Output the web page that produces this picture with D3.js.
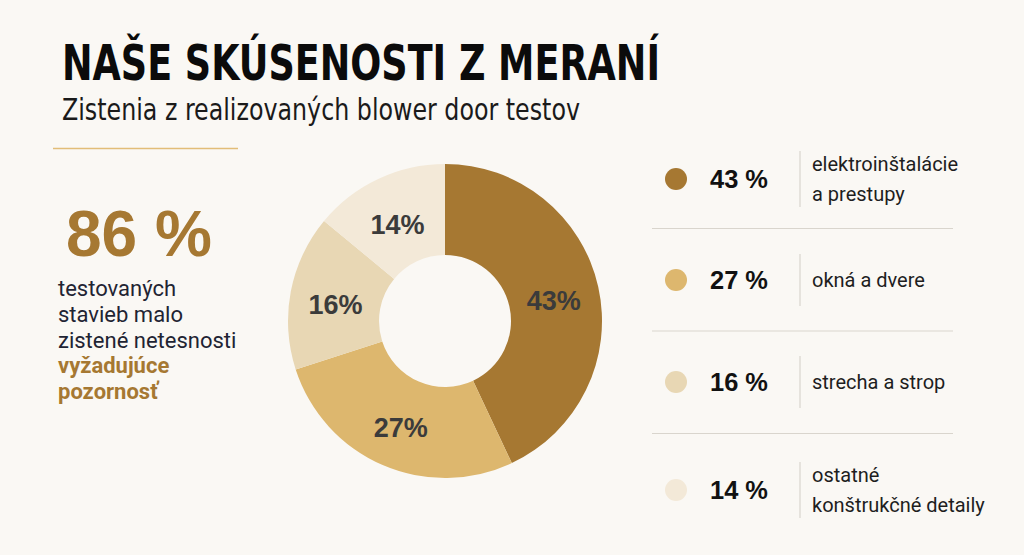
<!DOCTYPE html>
<html>
<head>
<meta charset="utf-8">
<script src="https://cdn.jsdelivr.net/npm/d3@7"></script>
<style>
  html, body { margin: 0; padding: 0; background: #faf8f4; }
  svg { display: block; }
</style>
</head>
<body>
<svg id="chart" width="1024" height="555"></svg>
<script>
// ---- data ----
const categories = ["elektroinštalácie\na prestupy", "okná a dvere", "strecha a strop", "ostatné\nkonštrukčné detaily"];
const values = [43, 27, 16, 14];
const colors = ["#a67832", "#ddb76e", "#e8d7b4", "#f3e9d8"];
const title = "NAŠE SKÚSENOSTI Z MERANÍ";
const subtitle = "Zistenia z realizovaných blower door testov";
const highlightValue = "86 %";
const highlightText = ["testovaných", "stavieb malo", "zistené netesnosti"];
const highlightEmph = ["vyžadujúce", "pozornosť"];

// ---- drawing ----
const svg = d3.select("#chart");
svg.append("rect").attr("width", 1024).attr("height", 555).attr("fill", "#faf8f4");

const gold = "#a67832";

svg.append("text").text(title)
  .attr("x", 62).attr("y", 80)
  .attr("font-family", "'DejaVu Sans Condensed', 'DejaVu Sans', sans-serif")
  .attr("font-stretch", "condensed")
  .attr("font-weight", 700).attr("font-size", 50).attr("fill", "#0b0b0b")
  .attr("textLength", 598).attr("lengthAdjust", "spacingAndGlyphs");

svg.append("text").text(subtitle)
  .attr("x", 62).attr("y", 120)
  .attr("font-family", "'DejaVu Sans Condensed', 'DejaVu Sans', sans-serif")
  .attr("font-stretch", "condensed")
  .attr("font-weight", 400).attr("font-size", 30).attr("fill", "#1a1a1a")
  .attr("textLength", 518).attr("lengthAdjust", "spacingAndGlyphs");

svg.append("line").attr("x1", 53).attr("x2", 238).attr("y1", 148.5).attr("y2", 148.5)
  .attr("stroke", "#e2bd78").attr("stroke-width", 1.5);

svg.append("text").text(highlightValue)
  .attr("x", 66).attr("y", 256)
  .attr("font-family", "'Liberation Sans', Arial, sans-serif")
  .attr("font-weight", 700).attr("font-size", 64).attr("fill", gold);

const lineH = 25.8;
highlightText.concat(highlightEmph).forEach((t, i) => {
  const emph = i >= highlightText.length;
  svg.append("text").text(t)
    .attr("x", 58).attr("y", 296 + i * lineH)
    .attr("font-family", "Roboto, 'Noto Sans', sans-serif")
    .attr("font-weight", emph ? 700 : 400)
    .attr("font-size", 22)
    .attr("fill", emph ? gold : "#1f2433");
});

// donut
const cx = 445, cy = 321, rOuter = 157, rInner = 66;
const pie = d3.pie().sort(null).value(d => d)(values);
const arc = d3.arc().innerRadius(rInner).outerRadius(rOuter);
const g = svg.append("g").attr("transform", `translate(${cx},${cy})`);
g.selectAll("path").data(pie).join("path")
  .attr("d", arc).attr("fill", (d, i) => colors[i]);
g.selectAll("text").data(pie).join("text")
  .attr("transform", d => `translate(${arc.centroid(d)})`)
  .attr("text-anchor", "middle").attr("dy", "0.5em")
  .attr("font-family", "'Liberation Sans', Arial, sans-serif")
  .attr("font-weight", 700).attr("font-size", 27).attr("fill", "#3b3b3b")
  .text(d => d.data + "%");

// legend
const rowCenters = [179, 280, 382, 490];
const sepYs = [228.5, 331, 433.5];
sepYs.forEach(y => {
  svg.append("line").attr("x1", 652).attr("x2", 953).attr("y1", y).attr("y2", y)
    .attr("stroke", "#d9d5cd").attr("stroke-width", 1.2);
});
values.forEach((v, i) => {
  const yc = rowCenters[i];
  const lines = categories[i].split("\n");
  svg.append("circle").attr("cx", 676).attr("cy", yc).attr("r", 11).attr("fill", colors[i]);
  svg.append("text").text(v + " %")
    .attr("x", 710).attr("y", yc + 9)
    .attr("font-family", "'Liberation Sans', Arial, sans-serif")
    .attr("font-weight", 700).attr("font-size", 25).attr("fill", "#111")
    .attr("textLength", 58).attr("lengthAdjust", "spacingAndGlyphs");
  const half = lines.length > 1 ? 28 : 26;
  svg.append("line").attr("x1", 800).attr("x2", 800)
    .attr("y1", yc - half).attr("y2", yc + half)
    .attr("stroke", "#d9d5cd").attr("stroke-width", 1.2);
  const lh = 30;
  lines.forEach((t, j) => {
    svg.append("text").text(t)
      .attr("x", 812)
      .attr("y", yc + 7 + (j - (lines.length - 1) / 2) * lh)
      .attr("font-family", "Roboto, 'Noto Sans', sans-serif")
      .attr("font-size", 20).attr("fill", "#1e1e1e");
  });
});
</script>
</body>
</html>
